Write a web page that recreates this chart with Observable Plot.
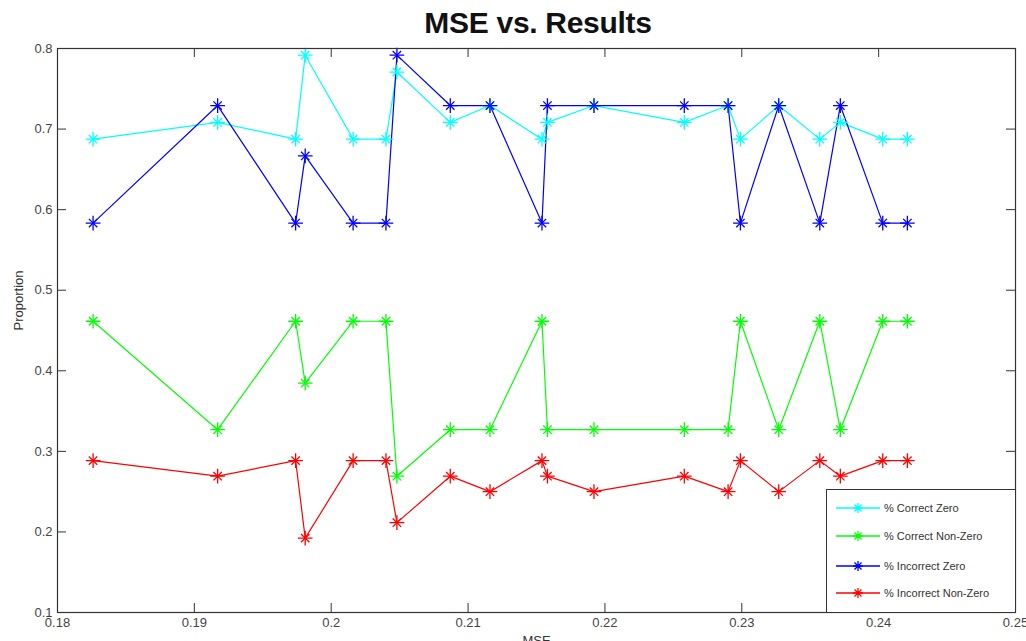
<!DOCTYPE html>
<html>
<head>
<meta charset="utf-8">
<script src="https://cdn.jsdelivr.net/npm/d3@7"></script>
<script src="https://cdn.jsdelivr.net/npm/@observablehq/plot@0.6"></script>
<style>
  html, body { margin: 0; padding: 0; background: #fff; overflow: hidden; }
  #wrap { position: relative; width: 1026px; height: 641px; font-family: "Liberation Sans", Arial, sans-serif; }
  #title { position: absolute; left: 57px; width: 962px; top: 6px; text-align: center; font-size: 30px; font-weight: bold; color: #111; letter-spacing: -0.3px; line-height: 34px; }
  #chart { position: absolute; left: 0; top: 40px; }
  #legend { position: absolute; left: 826px; top: 489px; width: 188px; height: 122px; border: 1px solid #333; background: #fff; box-sizing: content-box; }
  .item { position: absolute; left: 0; height: 20px; display: flex; align-items: center; font-size: 11px; color: #333; }
  .item svg { margin-left: 9px; margin-right: 4px; }
</style>
</head>
<body>
<div id="wrap">
  <div id="title">MSE vs. Results</div>
  <div id="chart"></div>
  <div id="legend"></div>
</div>
<script>
const mse = [0.1826, 0.1917, 0.1974, 0.1981, 0.2016, 0.2040, 0.2048, 0.2087, 0.2116, 0.2154,
             0.2158, 0.2192, 0.2258, 0.2290, 0.2299, 0.2327, 0.2357, 0.2372, 0.2403, 0.2421];
const correctZero = [0.6875, 0.7083, 0.6875, 0.7917, 0.6875, 0.6875, 0.7708, 0.7083, 0.7292, 0.6875,
                     0.7083, 0.7292, 0.7083, 0.7292, 0.6875, 0.7292, 0.6875, 0.7083, 0.6875, 0.6875];
const correctNonZero = [0.4615, 0.3269, 0.4615, 0.3846, 0.4615, 0.4615, 0.2692, 0.3269, 0.3269, 0.4615,
                        0.3269, 0.3269, 0.3269, 0.3269, 0.4615, 0.3269, 0.4615, 0.3269, 0.4615, 0.4615];
const incorrectZero = [0.5833, 0.7292, 0.5833, 0.6667, 0.5833, 0.5833, 0.7917, 0.7292, 0.7292, 0.5833,
                       0.7292, 0.7292, 0.7292, 0.7292, 0.5833, 0.7292, 0.5833, 0.7292, 0.5833, 0.5833];
const incorrectNonZero = [0.2885, 0.2692, 0.2885, 0.1923, 0.2885, 0.2885, 0.2115, 0.2692, 0.2500, 0.2885,
                          0.2692, 0.2500, 0.2692, 0.2500, 0.2885, 0.2500, 0.2885, 0.2692, 0.2885, 0.2885];
const seriesNames = ["% Correct Zero", "% Correct Non-Zero", "% Incorrect Zero", "% Incorrect Non-Zero"];
const seriesColors = ["#00ffff", "#00ff00", "#0000ff", "#ff0000"];
const xTicks = [0.18, 0.19, 0.2, 0.21, 0.22, 0.23, 0.24, 0.25];
const yTicks = [0.1, 0.2, 0.3, 0.4, 0.5, 0.6, 0.7, 0.8];
const xLabel = "MSE";
const yLabel = "Proportion";

const seriesValues = [correctZero, correctNonZero, incorrectZero, incorrectNonZero];
const rows = [];
seriesValues.forEach((vals, s) => vals.forEach((v, i) => rows.push({series: seriesNames[s], x: mse[i], y: v})));

const W = 1026, H = 601, mL = 57, mR = 11, mT = 8, mB = 29;
const plotH = H - mT - mB;
const TL = 9;

const chart = Plot.plot({
  width: W, height: H,
  marginLeft: mL, marginRight: mR, marginTop: mT, marginBottom: mB,
  style: {fontFamily: "Liberation Sans, Arial, sans-serif", background: "white"},
  x: {domain: [0.18, 0.25], label: null},
  y: {domain: [0.1, 0.8], label: null},
  color: {domain: seriesNames, range: seriesColors},
  marks: [
    Plot.line(rows, {x: "x", y: "y", z: "series", stroke: "series", strokeWidth: 1.2}),
    Plot.dot(rows, {x: "x", y: "y", stroke: "series", symbol: "plus", r: 4.8, strokeWidth: 1.3}),
    Plot.dot(rows, {x: "x", y: "y", stroke: "series", symbol: "times", r: 3.9, strokeWidth: 1.3}),
    Plot.tickX(xTicks.slice(1, -1), {x: d => d, stroke: "#333", insetTop: plotH - TL}),
    Plot.tickX(xTicks.slice(1, -1), {x: d => d, stroke: "#333", insetBottom: plotH - TL}),
    Plot.tickY(yTicks.slice(1, -1), {y: d => d, stroke: "#333", insetRight: (W - mL - mR) - TL}),
    Plot.tickY(yTicks.slice(1, -1), {y: d => d, stroke: "#333", insetLeft: (W - mL - mR) - TL}),
    Plot.frame({stroke: "#333", strokeWidth: 1.2}),
    Plot.axisX({ticks: xTicks, tickSize: 0, tickPadding: 5, tickFormat: d => String(d), fontSize: 13, fill: "#444", label: null}),
    Plot.axisY({ticks: yTicks, tickSize: 0, tickPadding: 5, tickFormat: d => String(d), fontSize: 13, fill: "#444", label: null}),
    Plot.text([yLabel], {text: d => d, frameAnchor: "left", dx: -39, rotate: -90, fontSize: 13, fill: "#333"}),
    Plot.text([xLabel], {text: d => d, frameAnchor: "bottom", dy: 23, fontSize: 13, fill: "#333", lineAnchor: "top"})
  ]
});
document.getElementById("chart").appendChild(chart);

// legend
const legend = document.getElementById("legend");
const tops = [8, 36, 66, 93];
seriesNames.forEach((name, i) => {
  const div = document.createElement("div");
  div.className = "item";
  div.style.top = tops[i] + "px";
  const c = seriesColors[i];
  div.innerHTML = `<svg width="44" height="12"><line x1="0" y1="6" x2="44" y2="6" stroke="${c}" stroke-width="1.3"/>` +
    `<path d="M22,1V11M17,6H27M18.5,2.5L25.5,9.5M18.5,9.5L25.5,2.5" stroke="${c}" stroke-width="1.3" fill="none"/></svg>`;
  const span = document.createElement("span");
  span.textContent = name;
  div.appendChild(span);
  legend.appendChild(div);
});
</script>
</body>
</html>
